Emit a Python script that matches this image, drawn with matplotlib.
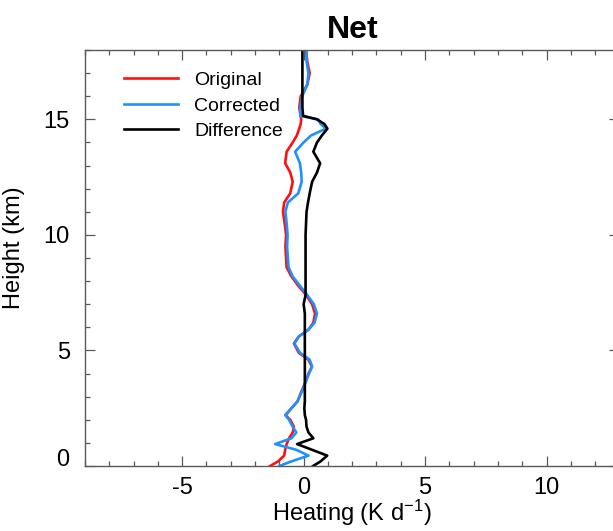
import numpy as np
import matplotlib
matplotlib.use('Agg')
import matplotlib.pyplot as plt
from matplotlib.ticker import MultipleLocator
from matplotlib.transforms import ScaledTranslation

plt.rcParams['font.family'] = ['Liberation Sans', 'DejaVu Sans']
plt.rcParams['mathtext.fontset'] = 'custom'
plt.rcParams['mathtext.rm'] = 'Liberation Sans'
plt.rcParams['mathtext.it'] = 'Liberation Sans'
plt.rcParams['axes.unicode_minus'] = False

# heights (km)
height = [0.0, 0.2, 0.45, 0.7, 0.95, 1.2, 1.45, 1.7, 2.0, 2.2, 2.5, 2.8, 3.2, 3.6,
          4.0, 4.3, 4.6, 4.9, 5.3, 5.6, 5.9, 6.2, 6.6, 7.0, 7.4, 7.8, 8.2, 8.6,
          9.0, 9.5, 10.0, 10.5, 11.0, 11.4, 11.8, 12.3, 12.7, 13.1, 13.6, 14.0,
          14.3, 14.6, 14.8, 15.0, 15.15, 15.5, 16.0, 16.5, 17.0, 17.5, 18.0]

# heating (K/d)
original = [-1.38, -1.05, -0.8, -0.76, -0.7, -0.6, -0.45, -0.4, -0.55, -0.75, -0.5, -0.25,
            -0.1, 0.06, 0.2, 0.34, 0.2, -0.2, -0.4, -0.2, 0.2, 0.4, 0.47, 0.35, 0.1,
            -0.22, -0.5, -0.7, -0.72, -0.75, -0.72, -0.78, -0.85, -0.8, -0.55, -0.45,
            -0.55, -0.76, -0.7, -0.45, -0.28, -0.18, -0.12, -0.1, -0.12, -0.18, -0.12,
            0.15, 0.25, 0.15, 0.1]

corrected = [-1.0, -0.5, 0.2, -0.3, -1.17, -0.5, -0.3, -0.45, -0.6, -0.75, -0.5, -0.25,
             -0.08, 0.08, 0.22, 0.35, 0.25, -0.15, -0.38, -0.2, 0.2, 0.45, 0.55, 0.42,
             0.15, -0.15, -0.45, -0.62, -0.65, -0.68, -0.66, -0.7, -0.75, -0.65, -0.22,
             -0.08, -0.1, -0.15, -0.35, 0.0, 0.3, 0.92, 0.7, 0.6, -0.14, -0.14, -0.06,
             0.15, 0.2, 0.12, 0.12]

difference = [0.39, 0.7, 0.97, 0.35, -0.27, 0.4, 0.2, 0.12, 0.1, 0.05, 0.03, 0.05,
              0.05, 0.05, 0.05, 0.05, 0.05, 0.05, 0.05, 0.05, 0.05, 0.05, 0.05, 0.0,
              0.08, 0.08, 0.08, 0.08, 0.08, 0.08, 0.08, 0.1, 0.12, 0.18, 0.25, 0.35,
              0.55, 0.68, 0.4, 0.55, 0.75, 0.98, 0.85, 0.55, -0.02, -0.05, -0.05,
              -0.05, -0.05, -0.05, -0.05]

fig = plt.figure(figsize=(6.13, 5.31), dpi=100)
ax = fig.add_axes([0.1387, 0.1224, 0.8717, 0.7834])

ax.plot(original, height, color='#ff1010', lw=1.9, label='Original')
ax.plot(corrected, height, color='#1e90ff', lw=1.9, label='Corrected')
ax.plot(difference, height, color='black', lw=1.9, label='Difference')

ax.set_xlim(-9, 13)
ax.set_ylim(0, 18)
ax.xaxis.set_major_locator(MultipleLocator(5))
ax.xaxis.set_minor_locator(MultipleLocator(1))
ax.yaxis.set_major_locator(MultipleLocator(5))
ax.yaxis.set_minor_locator(MultipleLocator(1))
ax.tick_params(which='both', direction='in', top=True, right=True, colors='0.35',
               labelcolor='black', labelsize=17, pad=11)
ax.tick_params(axis='x', which='both', pad=8)
ax.tick_params(which='major', length=7, width=0.9)
ax.tick_params(which='minor', length=3.5, width=0.9)
for s in ax.spines.values():
    s.set_color('0.35')
    s.set_linewidth(1.0)

# lift the "0" label a bit like the original
for lab in ax.get_yticklabels():
    if lab.get_text() == '0':
        lab.set_transform(lab.get_transform() + ScaledTranslation(0, 9/100, fig.dpi_scale_trans))

ax.set_xlabel('Heating (K d$^{-1}$)', fontsize=17, labelpad=-1)
ax.set_ylabel('Height (km)', fontsize=17)
ax.yaxis.set_label_coords(-0.112, 0.525)
ax.set_title('Net', fontsize=23, fontweight='bold', pad=9)

ax.legend(loc='upper left', bbox_to_anchor=(0.04, 0.99), frameon=False, fontsize=14,
          handlelength=2.8, handletextpad=0.8, labelspacing=0.4)

fig.savefig('out.png', dpi=100)
